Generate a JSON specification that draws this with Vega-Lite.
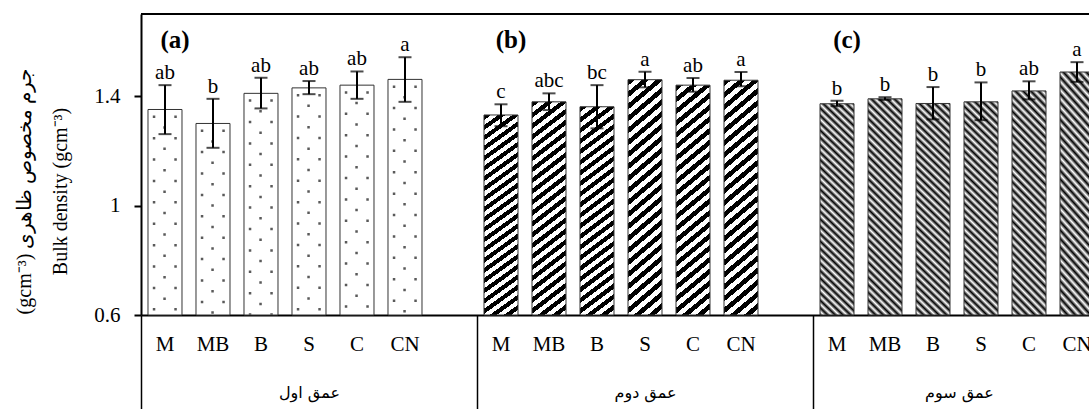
{
  "$schema": "https://vega.github.io/schema/vega-lite/v6.json",
  "width": 948,
  "height": 301,
  "autosize": "none",
  "padding": {"left": 141, "top": 14, "right": 0, "bottom": 94},
  "background": "white",
  "config": {"view": {"stroke": null}, "style": {"guide-title": {"lineBreak": "\n"}}},
  "datasets": {
    "bars": [
      {"key": "M|1", "treatment": "M", "depth": "عمق اول", "g": 1, "mean": 1.351, "lo": 1.261, "hi": 1.440, "letter": "ab"},
      {"key": "MB|1", "treatment": "MB", "depth": "عمق اول", "g": 1, "mean": 1.300, "lo": 1.211, "hi": 1.390, "letter": "b"},
      {"key": "B|1", "treatment": "B", "depth": "عمق اول", "g": 1, "mean": 1.410, "lo": 1.355, "hi": 1.467, "letter": "ab"},
      {"key": "S|1", "treatment": "S", "depth": "عمق اول", "g": 1, "mean": 1.430, "lo": 1.407, "hi": 1.455, "letter": "ab"},
      {"key": "C|1", "treatment": "C", "depth": "عمق اول", "g": 1, "mean": 1.440, "lo": 1.390, "hi": 1.490, "letter": "ab"},
      {"key": "CN|1", "treatment": "CN", "depth": "عمق اول", "g": 1, "mean": 1.461, "lo": 1.379, "hi": 1.542, "letter": "a"},
      {"key": "M|2", "treatment": "M", "depth": "عمق دوم", "g": 2, "mean": 1.331, "lo": 1.290, "hi": 1.370, "letter": "c"},
      {"key": "MB|2", "treatment": "MB", "depth": "عمق دوم", "g": 2, "mean": 1.379, "lo": 1.349, "hi": 1.410, "letter": "abc"},
      {"key": "B|2", "treatment": "B", "depth": "عمق دوم", "g": 2, "mean": 1.361, "lo": 1.282, "hi": 1.440, "letter": "bc"},
      {"key": "S|2", "treatment": "S", "depth": "عمق دوم", "g": 2, "mean": 1.460, "lo": 1.432, "hi": 1.489, "letter": "a"},
      {"key": "C|2", "treatment": "C", "depth": "عمق دوم", "g": 2, "mean": 1.440, "lo": 1.416, "hi": 1.466, "letter": "ab"},
      {"key": "CN|2", "treatment": "CN", "depth": "عمق دوم", "g": 2, "mean": 1.458, "lo": 1.436, "hi": 1.488, "letter": "a"},
      {"key": "M|3", "treatment": "M", "depth": "عمق سوم", "g": 3, "mean": 1.372, "lo": 1.363, "hi": 1.383, "letter": "b"},
      {"key": "MB|3", "treatment": "MB", "depth": "عمق سوم", "g": 3, "mean": 1.390, "lo": 1.386, "hi": 1.396, "letter": "b"},
      {"key": "B|3", "treatment": "B", "depth": "عمق سوم", "g": 3, "mean": 1.373, "lo": 1.315, "hi": 1.433, "letter": "b"},
      {"key": "S|3", "treatment": "S", "depth": "عمق سوم", "g": 3, "mean": 1.379, "lo": 1.312, "hi": 1.450, "letter": "b"},
      {"key": "C|3", "treatment": "C", "depth": "عمق سوم", "g": 3, "mean": 1.419, "lo": 1.388, "hi": 1.454, "letter": "ab"},
      {"key": "CN|3", "treatment": "CN", "depth": "عمق سوم", "g": 3, "mean": 1.488, "lo": 1.452, "hi": 1.524, "letter": "a"}
    ],
    "panels": [
      {"depth": "عمق اول", "label": "(a)"},
      {"depth": "عمق دوم", "label": "(b)"},
      {"depth": "عمق سوم", "label": "(c)"}
    ]
  },
  "layer": [
    {
      "data": {"name": "bars"},
      "layer": [
        {
          "transform": [{"filter": "datum.g == 1"}],
          "mark": {"type": "bar", "fill": "#ffffff", "stroke": "#333333", "strokeWidth": 1},
          "encoding": {
            "x": {
              "field": "key", "type": "nominal", "title": null,
              "scale": {
                "domain": ["M|1", "MB|1", "B|1", "S|1", "C|1", "CN|1", "|g1", "M|2", "MB|2", "B|2", "S|2", "C|2", "CN|2", "|g2", "M|3", "MB|3", "B|3", "S|3", "C|3", "CN|3"],
                "range": [0, 960], "paddingInner": 0.2917, "paddingOuter": 0.1458
              },
              "axis": {
                "labelExpr": "split(datum.value, '|')[0]",
                "ticks": false, "tickSize": 0, "grid": false,
                "domain": true, "domainColor": "#000000", "domainWidth": 2,
                "labelAngle": 0, "labelFont": "Liberation Serif", "labelFontSize": 21,
                "labelColor": "#000000", "labelPadding": 18, "labelBaseline": "top"
              }
            },
            "y": {
              "field": "mean", "type": "quantitative",
              "scale": {"domain": [0.6, 1.7], "nice": false, "zero": false},
              "axis": {
                "title": "(gcm⁻³) جرم مخصوص ظاهری\nBulk density (gcm⁻³)",
                "values": [0.6, 1, 1.4], "format": "~g", "grid": false,
                "domainColor": "#000000", "domainWidth": 2,
                "tickColor": "#000000", "tickWidth": 2, "tickSize": 7,
                "labelFont": "Liberation Serif", "labelFontSize": 21, "labelColor": "#000000", "labelPadding": 14,
                "titleFont": "Liberation Serif", "titleFontSize": 20, "titleFontWeight": "normal",
                "titleColor": "#000000", "titleLineHeight": 36, "titleX": -107, "titleY": 177
              }
            },
            "y2": {"datum": 0.6}
          }
        },
        {
          "transform": [{"filter": "datum.g == 1"}],
          "mark": {
            "type": "point", "filled": true, "color": "#5a5a5a", "opacity": 1, "size": 400, "clip": true,
            "shape": "M-1.22 0.6h0.25v0.25h-0.25zM0.93 0.6h0.25v0.25h-0.25zM-0.17 1.67h0.25v0.25h-0.25zM-1.22 2.74h0.25v0.25h-0.25zM0.93 2.74h0.25v0.25h-0.25zM-0.17 3.81h0.25v0.25h-0.25zM-1.22 4.88h0.25v0.25h-0.25zM0.93 4.88h0.25v0.25h-0.25zM-0.17 5.95h0.25v0.25h-0.25zM-1.22 7.02h0.25v0.25h-0.25zM0.93 7.02h0.25v0.25h-0.25zM-0.17 8.09h0.25v0.25h-0.25zM-1.22 9.16h0.25v0.25h-0.25zM0.93 9.16h0.25v0.25h-0.25zM-0.17 10.23h0.25v0.25h-0.25zM-1.22 11.3h0.25v0.25h-0.25zM0.93 11.3h0.25v0.25h-0.25zM-0.17 12.37h0.25v0.25h-0.25zM-1.22 13.44h0.25v0.25h-0.25zM0.93 13.44h0.25v0.25h-0.25zM-0.17 14.51h0.25v0.25h-0.25zM-1.22 15.58h0.25v0.25h-0.25zM0.93 15.58h0.25v0.25h-0.25zM-0.17 16.65h0.25v0.25h-0.25zM-1.22 17.72h0.25v0.25h-0.25zM0.93 17.72h0.25v0.25h-0.25zM-0.17 18.79h0.25v0.25h-0.25zM-1.22 19.86h0.25v0.25h-0.25zM0.93 19.86h0.25v0.25h-0.25zM-0.17 20.93h0.25v0.25h-0.25zM-1.22 22h0.25v0.25h-0.25zM0.93 22h0.25v0.25h-0.25zM-0.17 23.07h0.25v0.25h-0.25z"
          },
          "encoding": {
            "x": {"field": "key", "type": "nominal", "title": null},
            "y": {"field": "mean", "type": "quantitative"}
          }
        },
        {
          "transform": [{"filter": "datum.g == 2"}],
          "mark": {
            "type": "bar", "stroke": "#333333", "strokeWidth": 1,
            "fill": {
              "gradient": "linear", "x1": 0, "y1": 0, "x2": 0.135, "y2": 1.1056,
              "stops": [
                {"offset": 0, "color": "#000"}, {"offset": 0.0227, "color": "#000"}, {"offset": 0.0227, "color": "#fff"}, {"offset": 0.0455, "color": "#fff"},
                {"offset": 0.0455, "color": "#000"}, {"offset": 0.0682, "color": "#000"}, {"offset": 0.0682, "color": "#fff"}, {"offset": 0.0909, "color": "#fff"},
                {"offset": 0.0909, "color": "#000"}, {"offset": 0.1136, "color": "#000"}, {"offset": 0.1136, "color": "#fff"}, {"offset": 0.1364, "color": "#fff"},
                {"offset": 0.1364, "color": "#000"}, {"offset": 0.1591, "color": "#000"}, {"offset": 0.1591, "color": "#fff"}, {"offset": 0.1818, "color": "#fff"},
                {"offset": 0.1818, "color": "#000"}, {"offset": 0.2045, "color": "#000"}, {"offset": 0.2045, "color": "#fff"}, {"offset": 0.2273, "color": "#fff"},
                {"offset": 0.2273, "color": "#000"}, {"offset": 0.25, "color": "#000"}, {"offset": 0.25, "color": "#fff"}, {"offset": 0.2727, "color": "#fff"},
                {"offset": 0.2727, "color": "#000"}, {"offset": 0.2955, "color": "#000"}, {"offset": 0.2955, "color": "#fff"}, {"offset": 0.3182, "color": "#fff"},
                {"offset": 0.3182, "color": "#000"}, {"offset": 0.3409, "color": "#000"}, {"offset": 0.3409, "color": "#fff"}, {"offset": 0.3636, "color": "#fff"},
                {"offset": 0.3636, "color": "#000"}, {"offset": 0.3864, "color": "#000"}, {"offset": 0.3864, "color": "#fff"}, {"offset": 0.4091, "color": "#fff"},
                {"offset": 0.4091, "color": "#000"}, {"offset": 0.4318, "color": "#000"}, {"offset": 0.4318, "color": "#fff"}, {"offset": 0.4545, "color": "#fff"},
                {"offset": 0.4545, "color": "#000"}, {"offset": 0.4773, "color": "#000"}, {"offset": 0.4773, "color": "#fff"}, {"offset": 0.5, "color": "#fff"},
                {"offset": 0.5, "color": "#000"}, {"offset": 0.5227, "color": "#000"}, {"offset": 0.5227, "color": "#fff"}, {"offset": 0.5455, "color": "#fff"},
                {"offset": 0.5455, "color": "#000"}, {"offset": 0.5682, "color": "#000"}, {"offset": 0.5682, "color": "#fff"}, {"offset": 0.5909, "color": "#fff"},
                {"offset": 0.5909, "color": "#000"}, {"offset": 0.6136, "color": "#000"}, {"offset": 0.6136, "color": "#fff"}, {"offset": 0.6364, "color": "#fff"},
                {"offset": 0.6364, "color": "#000"}, {"offset": 0.6591, "color": "#000"}, {"offset": 0.6591, "color": "#fff"}, {"offset": 0.6818, "color": "#fff"},
                {"offset": 0.6818, "color": "#000"}, {"offset": 0.7045, "color": "#000"}, {"offset": 0.7045, "color": "#fff"}, {"offset": 0.7273, "color": "#fff"},
                {"offset": 0.7273, "color": "#000"}, {"offset": 0.75, "color": "#000"}, {"offset": 0.75, "color": "#fff"}, {"offset": 0.7727, "color": "#fff"},
                {"offset": 0.7727, "color": "#000"}, {"offset": 0.7955, "color": "#000"}, {"offset": 0.7955, "color": "#fff"}, {"offset": 0.8182, "color": "#fff"},
                {"offset": 0.8182, "color": "#000"}, {"offset": 0.8409, "color": "#000"}, {"offset": 0.8409, "color": "#fff"}, {"offset": 0.8636, "color": "#fff"},
                {"offset": 0.8636, "color": "#000"}, {"offset": 0.8864, "color": "#000"}, {"offset": 0.8864, "color": "#fff"}, {"offset": 0.9091, "color": "#fff"},
                {"offset": 0.9091, "color": "#000"}, {"offset": 0.9318, "color": "#000"}, {"offset": 0.9318, "color": "#fff"}, {"offset": 0.9545, "color": "#fff"},
                {"offset": 0.9545, "color": "#000"}, {"offset": 0.9773, "color": "#000"}, {"offset": 0.9773, "color": "#fff"}, {"offset": 1, "color": "#fff"}
              ]
            }
          },
          "encoding": {
            "x": {"field": "key", "type": "nominal", "title": null},
            "y": {"field": "mean", "type": "quantitative"},
            "y2": {"datum": 0.6}
          }
        },
        {
          "transform": [{"filter": "datum.g == 3"}],
          "mark": {
            "type": "bar", "stroke": "#333333", "strokeWidth": 1,
            "fill": {
              "gradient": "linear", "x1": 1, "y1": 0, "x2": 0.8251, "y2": 1.128,
              "stops": [
                {"offset": 0, "color": "#000"}, {"offset": 0.0152, "color": "#fff"}, {"offset": 0.0303, "color": "#000"}, {"offset": 0.0455, "color": "#fff"},
                {"offset": 0.0606, "color": "#000"}, {"offset": 0.0758, "color": "#fff"}, {"offset": 0.0909, "color": "#000"}, {"offset": 0.1061, "color": "#fff"},
                {"offset": 0.1212, "color": "#000"}, {"offset": 0.1364, "color": "#fff"}, {"offset": 0.1515, "color": "#000"}, {"offset": 0.1667, "color": "#fff"},
                {"offset": 0.1818, "color": "#000"}, {"offset": 0.1970, "color": "#fff"}, {"offset": 0.2121, "color": "#000"}, {"offset": 0.2273, "color": "#fff"},
                {"offset": 0.2424, "color": "#000"}, {"offset": 0.2576, "color": "#fff"}, {"offset": 0.2727, "color": "#000"}, {"offset": 0.2879, "color": "#fff"},
                {"offset": 0.3030, "color": "#000"}, {"offset": 0.3182, "color": "#fff"}, {"offset": 0.3333, "color": "#000"}, {"offset": 0.3485, "color": "#fff"},
                {"offset": 0.3636, "color": "#000"}, {"offset": 0.3788, "color": "#fff"}, {"offset": 0.3939, "color": "#000"}, {"offset": 0.4091, "color": "#fff"},
                {"offset": 0.4242, "color": "#000"}, {"offset": 0.4394, "color": "#fff"}, {"offset": 0.4545, "color": "#000"}, {"offset": 0.4697, "color": "#fff"},
                {"offset": 0.4848, "color": "#000"}, {"offset": 0.5, "color": "#fff"}, {"offset": 0.5152, "color": "#000"}, {"offset": 0.5303, "color": "#fff"},
                {"offset": 0.5455, "color": "#000"}, {"offset": 0.5606, "color": "#fff"}, {"offset": 0.5758, "color": "#000"}, {"offset": 0.5909, "color": "#fff"},
                {"offset": 0.6061, "color": "#000"}, {"offset": 0.6212, "color": "#fff"}, {"offset": 0.6364, "color": "#000"}, {"offset": 0.6515, "color": "#fff"},
                {"offset": 0.6667, "color": "#000"}, {"offset": 0.6818, "color": "#fff"}, {"offset": 0.6970, "color": "#000"}, {"offset": 0.7121, "color": "#fff"},
                {"offset": 0.7273, "color": "#000"}, {"offset": 0.7424, "color": "#fff"}, {"offset": 0.7576, "color": "#000"}, {"offset": 0.7727, "color": "#fff"},
                {"offset": 0.7879, "color": "#000"}, {"offset": 0.8030, "color": "#fff"}, {"offset": 0.8182, "color": "#000"}, {"offset": 0.8333, "color": "#fff"},
                {"offset": 0.8485, "color": "#000"}, {"offset": 0.8636, "color": "#fff"}, {"offset": 0.8788, "color": "#000"}, {"offset": 0.8939, "color": "#fff"},
                {"offset": 0.9091, "color": "#000"}, {"offset": 0.9242, "color": "#fff"}, {"offset": 0.9394, "color": "#000"}, {"offset": 0.9545, "color": "#fff"},
                {"offset": 0.9697, "color": "#000"}, {"offset": 0.9848, "color": "#fff"}, {"offset": 1, "color": "#000"}
              ]
            }
          },
          "encoding": {
            "x": {"field": "key", "type": "nominal", "title": null},
            "y": {"field": "mean", "type": "quantitative"},
            "y2": {"datum": 0.6}
          }
        },
        {
          "mark": {"type": "errorbar", "color": "#000000", "ticks": {"size": 13, "thickness": 2}, "rule": {"strokeWidth": 2}},
          "encoding": {
            "x": {"field": "key", "type": "nominal", "title": null},
            "y": {"field": "lo", "type": "quantitative", "axis": {"title": "(gcm⁻³) جرم مخصوص ظاهری\nBulk density (gcm⁻³)"}},
            "y2": {"field": "hi"}
          }
        },
        {
          "mark": {"type": "text", "font": "Liberation Serif", "fontSize": 21, "baseline": "alphabetic", "dy": -6, "color": "#000000"},
          "encoding": {
            "x": {"field": "key", "type": "nominal", "title": null},
            "y": {"field": "hi", "type": "quantitative", "axis": {"title": "(gcm⁻³) جرم مخصوص ظاهری\nBulk density (gcm⁻³)"}},
            "text": {"field": "letter"}
          }
        },
        {
          "mark": {"type": "rule", "color": "#000000", "strokeWidth": 2},
          "encoding": {"y": {"datum": 1.7}}
        }
      ]
    },
    {
      "data": {"name": "panels"},
      "mark": {"type": "text", "font": "Liberation Serif", "fontSize": 25, "fontWeight": "bold", "baseline": "alphabetic", "align": "center", "dx": 34, "color": "#000000"},
      "encoding": {
        "x": {
          "field": "depth", "type": "nominal", "title": null, "bandPosition": 0,
          "scale": {"domain": ["عمق اول", "عمق دوم", "عمق سوم"], "range": [0, 1008], "paddingInner": 0, "paddingOuter": 0},
          "axis": {
            "orient": "bottom", "domain": false, "grid": false,
            "ticks": true, "tickBand": "extent", "tickSize": 94, "tickWidth": 1.5, "tickColor": "#000000",
            "labelAngle": 0, "labelFont": "DejaVu Sans", "labelFontSize": 16, "labelColor": "#000000",
            "labelPadding": -25, "labelBaseline": "top",
            "labelOffset": {"condition": {"test": "datum.value === 'عمق سوم'", "value": -22}, "value": 0}
          }
        },
        "y": {"datum": 1.575},
        "text": {"field": "label"}
      }
    }
  ],
  "resolve": {"scale": {"x": "independent"}, "axis": {"x": "independent"}}
}
